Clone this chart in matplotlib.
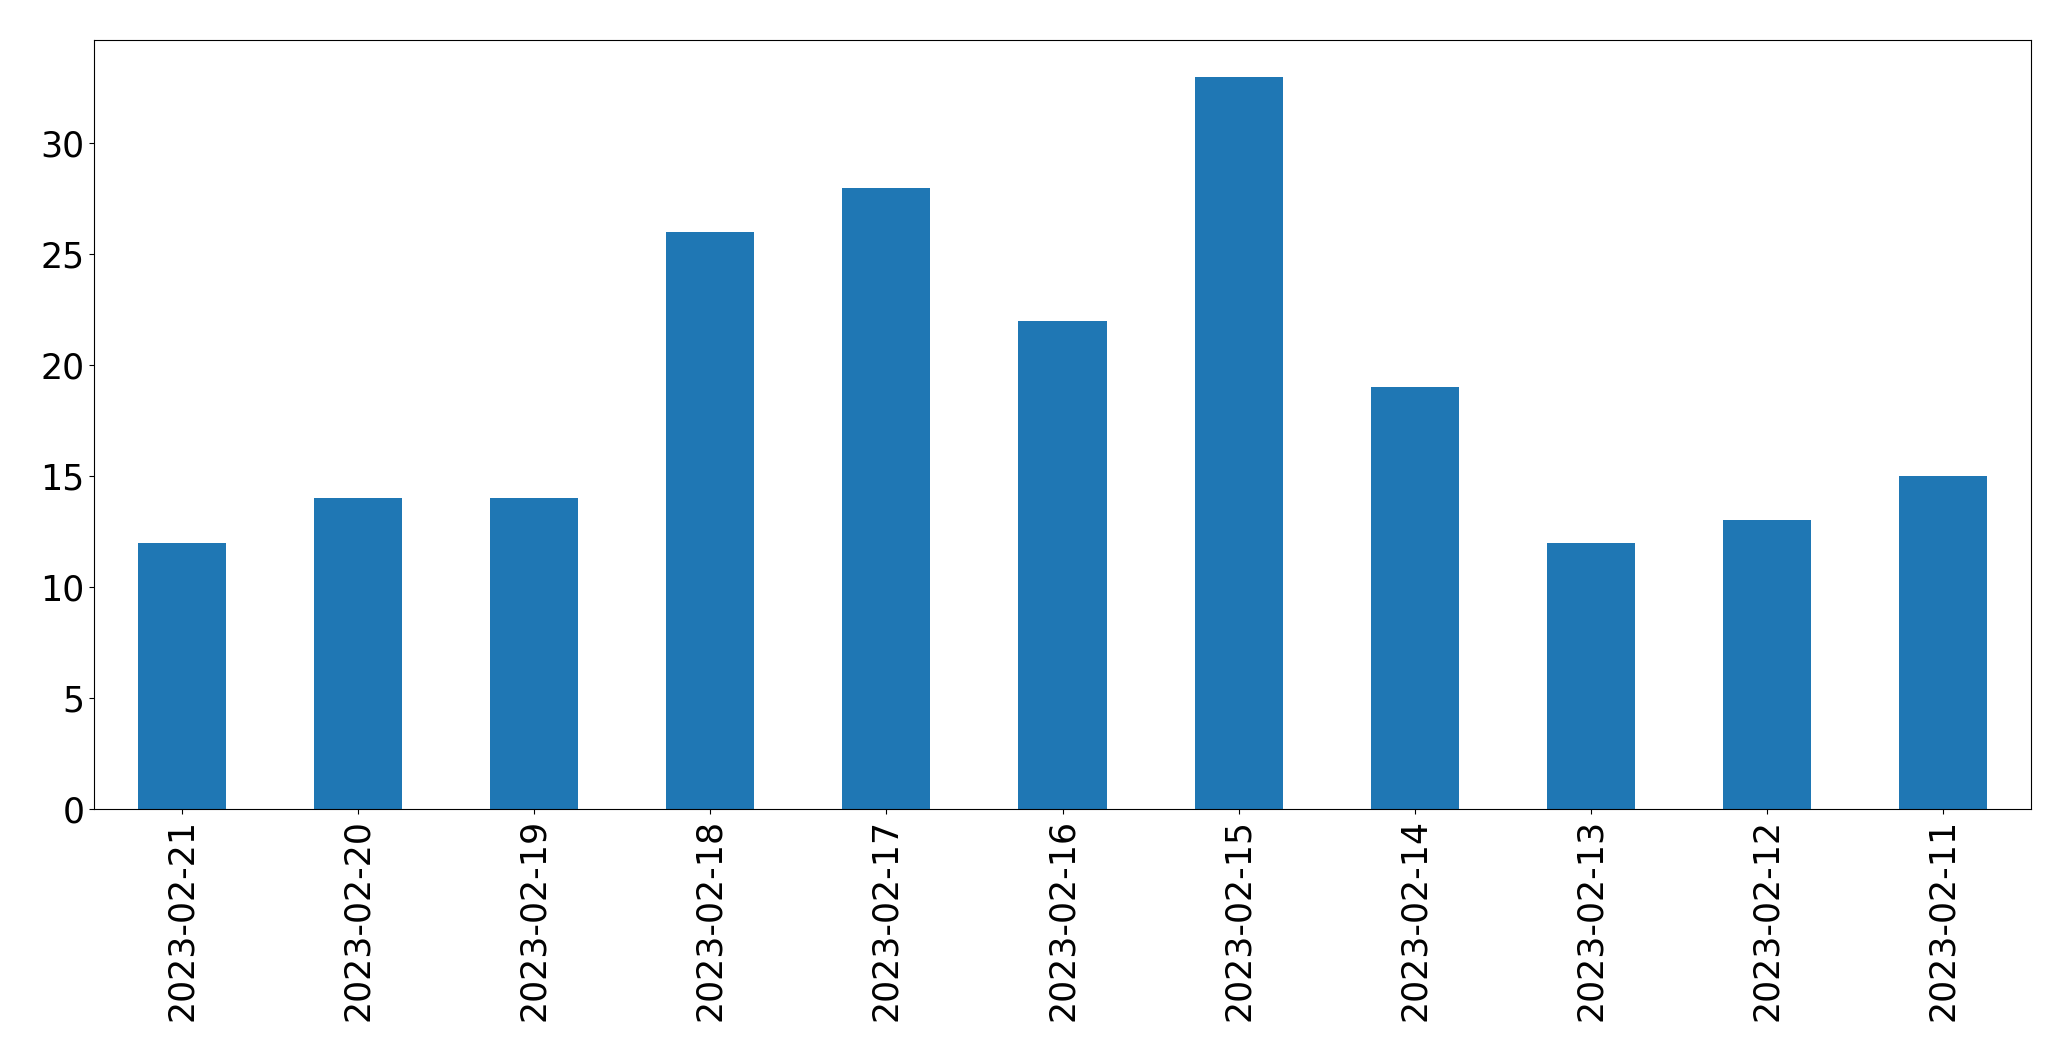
import matplotlib
matplotlib.use("Agg")
from matplotlib import pyplot as plt
import pandas as pd

dates = ["2023-02-21", "2023-02-20", "2023-02-19", "2023-02-18", "2023-02-17", "2023-02-16",
         "2023-02-15", "2023-02-14", "2023-02-13", "2023-02-12", "2023-02-11"]
counts = [12, 14, 14, 26, 28, 22, 33, 19, 12, 13, 15]

s = pd.Series(counts, index=dates)

fig = plt.figure(figsize=(20.71, 10.61), dpi=100)
ax = fig.add_axes([94/2071, 1 - 809/1061, 1937/2071, 769/1061])
s.plot(kind="bar", ax=ax, color="#1f77b4")
ax.tick_params(labelsize=25)

plt.savefig("out.png", dpi=100)
